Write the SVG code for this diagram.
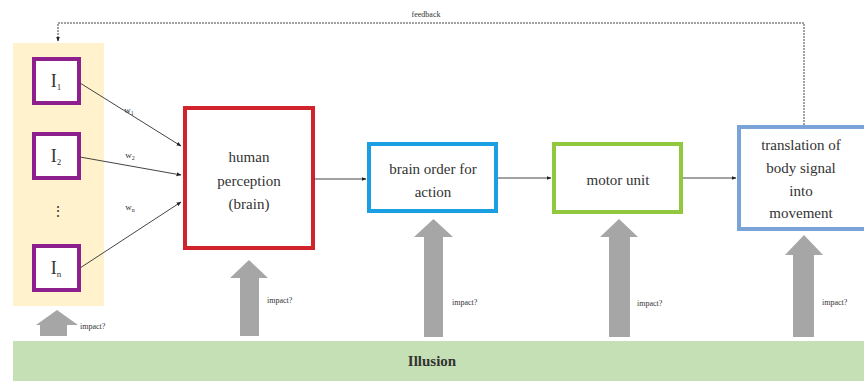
<svg xmlns="http://www.w3.org/2000/svg" width="864" height="381" viewBox="0 0 864 381" font-family="'Liberation Serif', 'DejaVu Serif', serif">
<style>
text{font-family:"Liberation Serif","DejaVu Serif",serif;fill:#333}
.box{fill:#fff;stroke-width:4}
.lbl{font-size:15px;text-anchor:middle}
.imp{font-size:8px}
.w{font-size:9px;text-anchor:middle}
.conn{stroke:#444;stroke-width:1;fill:none;marker-end:url(#ah)}
.big{fill:#a6a6a6}
</style>
<defs>
<marker id="ah" viewBox="0 0 10 10" refX="9" refY="5" markerWidth="5" markerHeight="5" orient="auto"><path d="M0,1 L10,5 L0,9 z" fill="#222"/></marker>
</defs>
<rect x="13" y="43" width="91" height="263" fill="#fff2cc"/>
<rect x="13" y="341" width="851" height="40" fill="#c5e0b4"/>
<text x="432" y="366" font-size="15" font-weight="bold" text-anchor="middle" fill="#222">Illusion</text>

<g id="I1"><rect class="box" x="34" y="59" width="45" height="44" stroke="#8e1f8e"/><text x="56" y="87" font-size="18" text-anchor="middle">I<tspan font-size="9" dy="3">1</tspan></text></g>
<g id="I2"><rect class="box" x="34" y="134" width="45" height="44" stroke="#8e1f8e"/><text x="56" y="162" font-size="18" text-anchor="middle">I<tspan font-size="9" dy="3">2</tspan></text></g>
<text x="58" y="216" font-size="14" text-anchor="middle">⋮</text>
<g id="In"><rect class="box" x="34" y="246" width="45" height="44" stroke="#8e1f8e"/><text x="56" y="274" font-size="18" text-anchor="middle">I<tspan font-size="9" dy="3">n</tspan></text></g>

<g id="perception"><rect class="box" x="185" y="108" width="128" height="140" stroke="#d0232b"/>
<text class="lbl" x="249" y="162">human</text><text class="lbl" x="249" y="186">perception</text><text class="lbl" x="249" y="209">(brain)</text></g>
<g id="order"><rect class="box" x="369" y="144" width="127" height="67" stroke="#1a9fe3"/>
<text class="lbl" x="433" y="174">brain order for</text><text class="lbl" x="433" y="197">action</text></g>
<g id="motor"><rect class="box" x="554" y="144" width="127" height="68" stroke="#92c83e"/>
<text class="lbl" x="618" y="185">motor unit</text></g>
<g id="translation"><rect class="box" x="739" y="127" width="130" height="102" stroke="#7aa3d8"/>
<text class="lbl" x="801" y="150">translation of</text><text class="lbl" x="801" y="173">body signal</text><text class="lbl" x="801" y="196">into</text><text class="lbl" x="801" y="218">movement</text></g>

<g id="connectors">
<line class="conn" x1="80" y1="83" x2="181" y2="146"/>
<line class="conn" x1="80" y1="157" x2="181" y2="175"/>
<line class="conn" x1="80" y1="268" x2="181" y2="202"/>
<line class="conn" x1="314" y1="179" x2="366" y2="179"/>
<line class="conn" x1="498" y1="178" x2="551" y2="178"/>
<line class="conn" x1="683" y1="178" x2="736" y2="178"/>
<path class="conn" d="M804,125 V23 H58 V41" stroke="#888" stroke-dasharray="2,1"/>
</g>
<text class="w" x="129" y="113">w<tspan font-size="6" dy="2">1</tspan></text>
<text class="w" x="130" y="158">w<tspan font-size="6" dy="2">2</tspan></text>
<text class="w" x="130" y="210">w<tspan font-size="6" dy="2">n</tspan></text>
<text x="426" y="17" font-size="8" text-anchor="middle">feedback</text>

<g id="impacts">
<path class="big" d="M40,336 V325 H36 L57,310 L78,325 H67 V336 z"/>
<path class="big" d="M240,336 V278 H230 L249,260 L268,278 H259 V336 z"/>
<path class="big" d="M424,337 V237 H414 L433.5,219 L453,237 H443 V337 z"/>
<path class="big" d="M609,337 V237 H600 L619,219 L638,237 H630 V337 z"/>
<path class="big" d="M793,337 V255 H785 L804,235 L823,255 H814 V337 z"/>
</g>
<text class="imp" x="80" y="329">impact?</text>
<text class="imp" x="267" y="303">impact?</text>
<text class="imp" x="452" y="305">impact?</text>
<text class="imp" x="637" y="306">impact?</text>
<text class="imp" x="822" y="305">impact?</text>
</svg>
